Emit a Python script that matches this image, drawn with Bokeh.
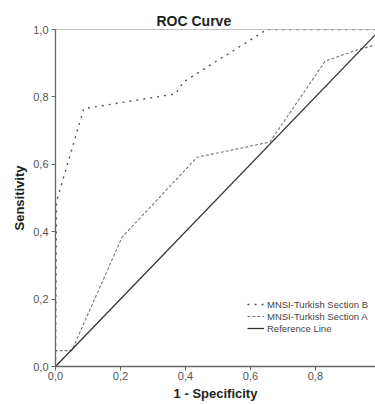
from bokeh.plotting import figure
from bokeh.models import FixedTicker, Range1d, Legend, LegendItem, Span
from bokeh.embed import file_html
from bokeh.resources import INLINE

# Data
b_fpr = [0.0, 0.003, 0.087, 0.369, 0.395, 0.651, 1.0]
b_tpr = [0.0, 0.49, 0.765, 0.809, 0.845, 1.0, 1.0]
a_fpr = [0.0, 0.0, 0.05, 0.205, 0.436, 0.66, 0.83, 0.93, 0.99, 1.0]
a_tpr = [0.0, 0.047, 0.047, 0.384, 0.621, 0.666, 0.906, 0.94, 0.955, 1.0]
ref_x = [0.0, 1.0]
ref_y = [0.0, 1.0]
ticks = [0.0, 0.2, 0.4, 0.6, 0.8, 1.0]
x_tick_labels = ["0,0", "0,2", "0,4", "0,6", "0,8", "1"]
y_tick_labels = ["0,0", "0,2", "0,4", "0,6", "0,8", "1,0"]
series_names = ["MNSI-Turkish Section B", "MNSI-Turkish Section A", "Reference Line"]

FONT = "Liberation Sans"

p = figure(width=375, height=404, output_backend="svg", toolbar_location=None,
           x_range=Range1d(0, 0.985), y_range=Range1d(0, 1.0),
           min_border_left=55, min_border_right=0, min_border_top=29, min_border_bottom=38)

p.title.text = "ROC Curve"
p.title.align = "left"
p.title.offset = 101
p.title.text_font = FONT
p.title.text_font_size = "14px"
p.title.text_font_style = "bold"
p.title.text_color = "#222222"
p.title.standoff = 2

p.grid.visible = False
p.outline_line_color = None
p.add_layout(Span(location=1.0, dimension="width", line_color="#888888", line_width=1.2))

for ax, labels in ((p.xaxis, x_tick_labels), (p.yaxis, y_tick_labels)):
    ax.ticker = FixedTicker(ticks=ticks)
    ax.major_label_overrides = {t: l for t, l in zip(ticks, labels)}
    ax.minor_tick_line_color = None
    ax.major_tick_in = 0
    ax.major_tick_out = 4
    ax.major_tick_line_color = "#666666"
    ax.axis_line_color = "#666666"
    ax.axis_line_width = 1.3
    ax.major_label_text_font = FONT
    ax.major_label_text_font_size = "11px"
    ax.major_label_text_color = "#555555"
    ax.axis_label_text_font = FONT
    ax.axis_label_text_font_size = "13px"
    ax.axis_label_text_font_style = "bold"
    ax.axis_label_text_color = "#222222"

p.xaxis.axis_label = "1 - Specificity"
p.yaxis.axis_label = "Sensitivity"
p.xaxis.major_label_standoff = 1
p.xaxis.axis_label_standoff = 3
p.yaxis.major_label_standoff = 3
p.yaxis.axis_label_standoff = 3
p.yaxis.major_label_orientation = "horizontal"

r_b = p.line(b_fpr, b_tpr, line_color="#555555", line_width=1.4, line_dash="2 5")
r_a = p.line(a_fpr, a_tpr, line_color="#777777", line_width=1.1, line_dash="3 2")
r_ref = p.line(ref_x, ref_y, line_color="#333333", line_width=1.3)

legend = Legend(items=[LegendItem(label=series_names[0], renderers=[r_b]),
                       LegendItem(label=series_names[1], renderers=[r_a]),
                       LegendItem(label=series_names[2], renderers=[r_ref])],
                location=(192, 32))
legend.padding = 0
legend.margin = 0
legend.spacing = 0
legend.border_line_alpha = 0
legend.background_fill_alpha = 0
legend.glyph_width = 17
legend.glyph_height = 12
legend.label_height = 12
legend.label_standoff = 3
legend.label_text_font = FONT
legend.label_text_font_size = "9.5px"
legend.label_text_color = "#444444"
p.add_layout(legend)

open("out.html", "w").write(file_html(p, INLINE))
